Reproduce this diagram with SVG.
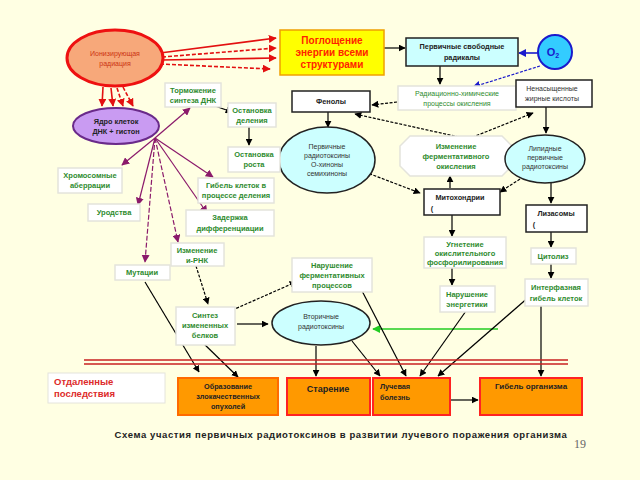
<svg xmlns="http://www.w3.org/2000/svg" width="640" height="480" viewBox="0 0 640 480">
<defs>
<marker id="ab" viewBox="0 0 10 10" refX="9" refY="5" markerWidth="7" markerHeight="7" orient="auto" markerUnits="userSpaceOnUse"><path d="M0,0 L10,5 L0,10 z" fill="#000"/></marker>
<marker id="ar" viewBox="0 0 10 10" refX="9" refY="5" markerWidth="8" markerHeight="8" orient="auto" markerUnits="userSpaceOnUse"><path d="M0,0 L10,5 L0,10 z" fill="#e31010"/></marker>
<marker id="ap" viewBox="0 0 10 10" refX="9" refY="5" markerWidth="8" markerHeight="8" orient="auto" markerUnits="userSpaceOnUse"><path d="M0,0 L10,5 L0,10 z" fill="#8b1a6b"/></marker>
<marker id="au" viewBox="0 0 10 10" refX="9" refY="5" markerWidth="8" markerHeight="8" orient="auto" markerUnits="userSpaceOnUse"><path d="M0,0 L10,5 L0,10 z" fill="#1a1acc"/></marker>
<marker id="ag" viewBox="0 0 10 10" refX="9" refY="5" markerWidth="8" markerHeight="8" orient="auto" markerUnits="userSpaceOnUse"><path d="M0,0 L10,5 L0,10 z" fill="#22cc22"/></marker>
</defs>
<style>
text{font-family:"Liberation Sans",Arial,sans-serif;text-anchor:middle}
.wb{fill:#fff;stroke:#e4e4dc;stroke-width:1.5}
.bb{fill:#fff;stroke:#222;stroke-width:1.5}
.cy{fill:#ccffff;stroke:#222;stroke-width:1.5}
.g{fill:#2e8b2e;font-size:7.5px;font-weight:bold}
.k{fill:#222;font-size:7.3px;font-weight:bold}
.kn{fill:#333;font-size:7px}
.or{fill:#ff9900;stroke:#f22;stroke-width:2}
.bl{stroke:#000;stroke-width:1.2;fill:none}
.bd{stroke:#000;stroke-width:1.2;fill:none;stroke-dasharray:3,1.5}
.rl{stroke:#e31010;stroke-width:1.6;fill:none}
.rd{stroke:#e31010;stroke-width:1.6;fill:none;stroke-dasharray:4,2}
.pl{stroke:#8b1a6b;stroke-width:1.2;fill:none}
.pd{stroke:#8b1a6b;stroke-width:1.2;fill:none;stroke-dasharray:5,2}
.cap{fill:#222;font-size:9.5px;font-weight:bold;letter-spacing:0.6px}
.pg{font-family:"Liberation Serif","Times New Roman",serif;fill:#666;font-size:12px}
</style>
<rect x="0" y="0" width="640" height="480" fill="#ffffe3"/>

<g id="connectors">
<line class="rl" x1="160" y1="53" x2="276" y2="38" marker-end="url(#ar)"/>
<line class="rd" x1="162" y1="57" x2="276" y2="48" marker-end="url(#ar)"/>
<line class="rl" x1="162" y1="60" x2="276" y2="58" marker-end="url(#ar)"/>
<line class="rd" x1="160" y1="64" x2="270" y2="69" marker-end="url(#ar)"/>
<line class="rl" x1="103" y1="87" x2="102" y2="106" marker-end="url(#ar)"/>
<line class="rl" x1="111" y1="88" x2="113" y2="106" marker-end="url(#ar)"/>
<line class="rd" x1="117" y1="88" x2="123" y2="106" marker-end="url(#ar)"/>
<line class="rd" x1="123" y1="87" x2="133" y2="106" marker-end="url(#ar)"/>
<line class="bl" x1="384" y1="48" x2="405" y2="48" marker-end="url(#ab)"/>
<line stroke="#1a1acc" stroke-width="1.6" x1="538" y1="53" x2="519" y2="53" marker-end="url(#au)"/>
<line stroke="#1a1acc" stroke-width="1.2" stroke-dasharray="3,1.5" x1="540" y1="66" x2="473" y2="87" marker-end="url(#au)"/>
<line class="bl" x1="440" y1="66" x2="440" y2="84" marker-end="url(#ab)"/>
<line class="bd" x1="397" y1="102" x2="372" y2="105" marker-end="url(#ab)"/>
<line class="bl" x1="492" y1="103" x2="514" y2="106" marker-end="url(#ab)"/>
<line class="bd" x1="468" y1="139" x2="355" y2="114" marker-end="url(#ab)"/>
<line class="bd" x1="468" y1="139" x2="533" y2="113" marker-end="url(#ab)"/>
<line class="bl" x1="328" y1="112" x2="328" y2="127" marker-end="url(#ab)"/>
<line class="bl" x1="546" y1="107" x2="546" y2="133" marker-end="url(#ab)"/>
<line class="bd" x1="365" y1="172" x2="420" y2="193" marker-end="url(#ab)"/>
<line class="bl" x1="450" y1="188" x2="450" y2="176" marker-end="url(#ab)"/>
<line class="bd" x1="520" y1="179" x2="500" y2="192" marker-end="url(#ab)"/>
<line class="bl" x1="551" y1="183" x2="551" y2="203" marker-end="url(#ab)"/>
<line class="bl" x1="551" y1="232" x2="551" y2="247" marker-end="url(#ab)"/>
<line class="bl" x1="551" y1="264" x2="551" y2="278" marker-end="url(#ab)"/>
<line class="bl" x1="452" y1="215" x2="452" y2="236" marker-end="url(#ab)"/>
<line class="bl" x1="452" y1="268" x2="452" y2="285" marker-end="url(#ab)"/>
<line class="bl" x1="215" y1="106" x2="232" y2="112" marker-end="url(#ab)"/>
<line class="bl" x1="249" y1="127" x2="249" y2="145" marker-end="url(#ab)"/>
<line class="pl" x1="155" y1="138" x2="190" y2="108" marker-end="url(#ap)"/>
<line class="pl" x1="155" y1="138" x2="122" y2="165" marker-end="url(#ap)"/>
<line class="pl" x1="155" y1="138" x2="138" y2="205" marker-end="url(#ap)"/>
<line class="pd" x1="155" y1="138" x2="145" y2="262" marker-end="url(#ap)"/>
<line class="pd" x1="155" y1="138" x2="178" y2="242" marker-end="url(#ap)"/>
<line class="pl" x1="155" y1="138" x2="207" y2="213" marker-end="url(#ap)"/>
<line class="pl" x1="155" y1="138" x2="213" y2="177" marker-end="url(#ap)"/>
<line class="bd" x1="196" y1="266" x2="208" y2="304" marker-end="url(#ab)"/>
<line class="bd" x1="228" y1="312" x2="296" y2="282" marker-end="url(#ab)"/>
<line class="bl" x1="237" y1="324" x2="268" y2="324" marker-end="url(#ab)"/>
<line stroke="#22cc22" stroke-width="1.6" x1="498" y1="329" x2="373" y2="329" marker-end="url(#ag)"/>
<line class="bl" x1="145" y1="282" x2="199" y2="372" marker-end="url(#ab)"/>
<line class="bl" x1="200" y1="340" x2="238" y2="377" marker-end="url(#ab)"/>
<line class="bl" x1="316" y1="346" x2="316" y2="376" marker-end="url(#ab)"/>
<line class="bl" x1="352" y1="341" x2="380" y2="376" marker-end="url(#ab)"/>
<line class="bl" x1="360" y1="287" x2="406" y2="376" marker-end="url(#ab)"/>
<line class="bl" x1="466" y1="311" x2="420" y2="376" marker-end="url(#ab)"/>
<line class="bl" x1="530" y1="296" x2="438" y2="376" marker-end="url(#ab)"/>
<line class="bl" x1="541" y1="305" x2="541" y2="376" marker-end="url(#ab)"/>
<line class="bl" x1="450" y1="400" x2="478" y2="400" marker-end="url(#ab)"/>
</g>

<g id="separator">
<line x1="84" y1="360" x2="568" y2="360" stroke="#c82020" stroke-width="1.5"/>
<line x1="84" y1="364" x2="568" y2="364" stroke="#c82020" stroke-width="1.5"/>
</g>

<g id="ionizing">
<ellipse cx="115" cy="58" rx="48" ry="28" fill="#f7a87a" stroke="#ee1111" stroke-width="3"/>
<text x="115" y="56" fill="#cc3311" font-size="7">Ионизирующая</text>
<text x="115" y="66" fill="#cc3311" font-size="7">радиация</text>
</g>
<g id="absorption">
<rect x="280" y="30" width="104" height="45" fill="#ffff00" stroke="#f0a000" stroke-width="1.5"/>
<text x="332" y="44" fill="#ff2200" font-size="10" font-weight="bold">Поглощение</text>
<text x="332" y="56" fill="#ff2200" font-size="10" font-weight="bold">энергии всеми</text>
<text x="332" y="68" fill="#ff2200" font-size="10" font-weight="bold">структурами</text>
</g>
<g id="radicals">
<rect class="cy" x="406" y="38" width="112" height="28"/>
<text class="k" x="462" y="49">Первичные свободные</text>
<text class="k" x="462" y="60">радикалы</text>
</g>
<g id="o2">
<circle cx="555" cy="52" r="17" fill="#33ccff" stroke="#1a1acc" stroke-width="2"/>
<text x="553" y="56" fill="#1a1acc" font-size="11" font-weight="bold">O<tspan font-size="7" dy="2">2</tspan></text>
</g>
<g id="radchem">
<rect class="wb" x="398" y="86" width="118" height="24"/>
<text x="457" y="96" fill="#2e8b2e" font-size="7">Радиационно-химические</text>
<text x="457" y="106" fill="#2e8b2e" font-size="7">процессы окисления</text>
</g>
<g id="phenols">
<rect class="bb" x="292" y="91" width="78" height="21"/>
<text class="k" x="331" y="104">Фенолы</text>
</g>
<g id="fatty">
<rect class="bb" x="516" y="80" width="76" height="27"/>
<text class="kn" x="552" y="91">Ненасыщенные</text>
<text class="kn" x="552" y="101">жирные кислоты</text>
</g>
<g id="primary">
<ellipse class="cy" cx="327" cy="160" rx="48" ry="33"/>
<text class="kn" x="327" y="149">Первичные</text>
<text class="kn" x="327" y="158">радиотоксины</text>
<text class="kn" x="327" y="167">О-хиноны</text>
<text class="kn" x="327" y="176">семихиноны</text>
</g>
<g id="enzymeox">
<polygon points="410,136 502,136 512,146 512,166 502,176 410,176 400,166 400,146" fill="#fff" stroke="#e4e4dc" stroke-width="1.5"/>
<text class="g" x="456" y="149">Изменение</text>
<text class="g" x="456" y="159">ферментативного</text>
<text class="g" x="456" y="169">окисления</text>
</g>
<g id="lipid">
<ellipse class="cy" cx="545" cy="159" rx="40" ry="24"/>
<text class="kn" x="545" y="151">Липидные</text>
<text class="kn" x="545" y="160">первичные</text>
<text class="kn" x="545" y="169">радиотоксины</text>
</g>
<g id="mito">
<rect class="bb" x="424" y="189" width="76" height="26"/>
<text class="k" x="460" y="200">Митохондрии</text>
<text class="k" x="432" y="211">(</text>
</g>
<g id="lyso">
<rect class="bb" x="526" y="205" width="61" height="27"/>
<text class="k" x="556" y="216">Лизасомы</text>
<text class="k" x="534" y="227">(</text>
</g>
<g id="cytolysis">
<rect class="wb" x="531" y="248" width="45" height="16"/>
<text class="g" x="553" y="259">Цитолиз</text>
</g>
<g id="interphase">
<rect class="wb" x="525" y="279" width="63" height="27"/>
<text class="g" x="556" y="290">Интерфазная</text>
<text class="g" x="556" y="301">гибель клеток</text>
</g>
<g id="oxphos">
<rect class="wb" x="424" y="237" width="82" height="31"/>
<text class="g" x="465" y="247">Угнетение</text>
<text class="g" x="465" y="256">окислительного</text>
<text class="g" x="465" y="265">фосфорилирования</text>
</g>
<g id="energy">
<rect class="wb" x="440" y="286" width="55" height="26"/>
<text class="g" x="467" y="297">Нарушение</text>
<text class="g" x="467" y="307">энергетики</text>
</g>
<g id="dnasynth">
<rect class="wb" x="165" y="83" width="56" height="24"/>
<text class="g" x="193" y="93">Торможение</text>
<text class="g" x="193" y="103">синтеза ДНК</text>
</g>
<g id="division">
<rect class="wb" x="228" y="103" width="48" height="24"/>
<text class="g" x="252" y="113">Остановка</text>
<text class="g" x="252" y="123">деления</text>
</g>
<g id="growth">
<rect class="wb" x="228" y="147" width="52" height="25"/>
<text class="g" x="254" y="157">Остановка</text>
<text class="g" x="254" y="167">роста</text>
</g>
<g id="nucleus">
<ellipse cx="116" cy="126" rx="43" ry="18" fill="#c99bf2" stroke="#6a2a8a" stroke-width="2"/>
<text class="k" x="116" y="124">Ядро клеток</text>
<text class="k" x="116" y="134">ДНК + гистон</text>
</g>
<g id="chromo">
<rect class="wb" x="58" y="168" width="64" height="25"/>
<text class="g" x="90" y="178">Хромосомные</text>
<text class="g" x="90" y="188">аберрации</text>
</g>
<g id="deform">
<rect class="wb" x="88" y="204" width="52" height="17"/>
<text class="g" x="114" y="215">Уродства</text>
</g>
<g id="celldeath">
<rect class="wb" x="198" y="178" width="76" height="25"/>
<text class="g" x="236" y="188">Гибель клеток в</text>
<text class="g" x="236" y="198">процессе деления</text>
</g>
<g id="diff">
<rect class="wb" x="186" y="210" width="88" height="26"/>
<text class="g" x="230" y="220">Задержка</text>
<text class="g" x="230" y="231">дифференциации</text>
</g>
<g id="mrna">
<rect class="wb" x="171" y="243" width="53" height="23"/>
<text class="g" x="197" y="253">Изменение</text>
<text class="g" x="197" y="263">и-РНК</text>
</g>
<g id="mutations">
<rect class="wb" x="115" y="265" width="55" height="15"/>
<text class="g" x="142" y="275">Мутации</text>
</g>
<g id="proteins">
<rect class="wb" x="176" y="307" width="59" height="38"/>
<text class="g" x="205" y="318">Синтез</text>
<text class="g" x="205" y="328">измененных</text>
<text class="g" x="205" y="338">белков</text>
</g>
<g id="enzymeproc">
<rect class="wb" x="292" y="258" width="80" height="34"/>
<text class="g" x="332" y="268">Нарушение</text>
<text class="g" x="332" y="278">ферментативных</text>
<text class="g" x="332" y="288">процессов</text>
</g>
<g id="secondary">
<ellipse class="cy" cx="321" cy="323" rx="49" ry="22"/>
<text class="kn" x="321" y="319">Вторичные</text>
<text class="kn" x="321" y="329">радиотоксины</text>
</g>
<g id="remote">
<rect x="48" y="373" width="117" height="30" fill="#fff" stroke="#e4e4dc" stroke-width="1"/>
<text x="54" y="385" fill="#dd2a2a" font-size="9.5" font-weight="bold" style="text-anchor:start">Отдаленные</text>
<text x="54" y="397" fill="#dd2a2a" font-size="9.5" font-weight="bold" style="text-anchor:start">последствия</text>
</g>
<g id="tumors">
<rect x="178" y="378" width="100" height="37" fill="#ff9900" stroke="#ff6a00" stroke-width="2"/>
<text class="k" x="228" y="389">Образование</text>
<text class="k" x="228" y="399">злокачественных</text>
<text class="k" x="228" y="409">опухолей</text>
</g>
<g id="aging">
<rect class="or" x="287" y="378" width="83" height="37"/>
<text x="328" y="392" fill="#222" font-size="9" font-weight="bold">Старение</text>
</g>
<g id="sickness">
<rect class="or" x="373" y="378" width="77" height="37"/>
<text class="k" x="395" y="389">Лучевая</text>
<text class="k" x="395" y="400">болезнь</text>
</g>
<g id="death">
<rect class="or" x="480" y="378" width="102" height="37"/>
<text x="531" y="389" fill="#222" font-size="8" font-weight="bold">Гибель организма</text>
</g>
<text class="cap" x="341" y="438">Схема участия первичных радиотоксинов в развитии лучевого поражения организма</text>
<text class="pg" x="580" y="448">19</text>
</svg>
